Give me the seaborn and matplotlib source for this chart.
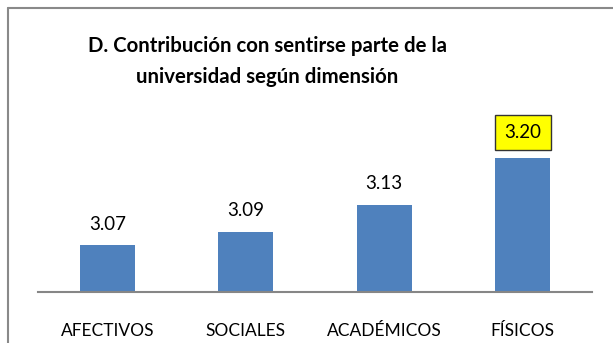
import matplotlib
matplotlib.use("Agg")
import matplotlib.pyplot as plt
from matplotlib.lines import Line2D
import seaborn as sns
import pandas as pd

categories = ["AFECTIVOS", "SOCIALES", "ACADÉMICOS", "FÍSICOS"]
values = [3.07, 3.09, 3.13, 3.20]
value_labels = ["3.07", "3.09", "3.13", "3.20"]
title = "D. Contribución con sentirse parte de la\nuniversidad según dimensión"

sns.set_theme(style="white")
plt.rcParams["font.family"] = ["Lato", "DejaVu Sans"]

W, H = 613, 343
fig = plt.figure(figsize=(W / 100, H / 100), dpi=100)
fig.patch.set_facecolor("white")

# plot area in pixel coordinates
left, right, top, bottom = 38, 592, 124, 292
ax = fig.add_axes([left / W, 1 - bottom / H, (right - left) / W, (bottom - top) / H])

df = pd.DataFrame({"cat": categories, "val": values})
sns.barplot(data=df, x="cat", y="val", color="#4F81BD", width=0.4,
            saturation=1, ax=ax, edgecolor="none")

ax.set_ylim(3.0, 3.25)
ax.set_xlim(-0.5, len(categories) - 0.5)
ax.set_xlabel("")
ax.set_ylabel("")
ax.set_yticks([])
for s in ["left", "right", "top"]:
    ax.spines[s].set_visible(False)
ax.spines["bottom"].set_color("#868686")
ax.spines["bottom"].set_linewidth(1.5)
ax.tick_params(axis="x", length=0, pad=22.5, labelsize=12.5, colors="black")

# value labels above the bars
for i, (v, lab) in enumerate(zip(values, value_labels)):
    if i == len(values) - 1:
        ax.annotate(lab, (i, v), xytext=(0, 18), textcoords="offset points",
                    ha="center", va="center", fontsize=13.5, color="black",
                    bbox=dict(boxstyle="square,pad=0.5", facecolor="#FFFF00",
                              edgecolor="#333333", linewidth=1))
    else:
        ax.annotate(lab, (i, v), xytext=(0, 15), textcoords="offset points",
                    ha="center", va="center", fontsize=13.5, color="black")

fig.text(267 / W, 1 - 61.5 / H, title, ha="center", va="center",
         fontsize=14.7, fontweight="bold", color="black", linespacing=1.7)

# chart frame edges
fig.add_artist(Line2D([7.5 / W, 7.5 / W], [0, 1 - 7.5 / H],
                      transform=fig.transFigure, color="#898989", lw=1.5))
fig.add_artist(Line2D([7.5 / W, 1], [1 - 7.5 / H, 1 - 7.5 / H],
                      transform=fig.transFigure, color="#898989", lw=1.5))

fig.savefig("out.png", dpi=100)
